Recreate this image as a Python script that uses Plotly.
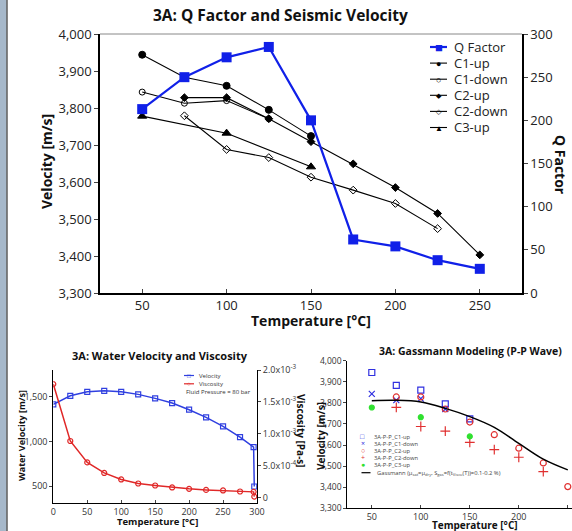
import plotly.graph_objects as go

W, H = 572, 531
def px(x): return x / W
def py(y): return 1 - y / H

FONT = "Open Sans"

# ---------------- data: main chart ----------------
q_temps = [50, 75, 100, 125, 150, 175, 200, 225, 250]
q_factor = [213, 250, 273, 285, 200, 62, 54, 38, 28]
c1_up_t = [50, 75, 100, 125, 150]
c1_up_v = [3944, 3883, 3860, 3795, 3724]
c1_down_t = [50, 75, 100, 125]
c1_down_v = [3843, 3813, 3820, 3771]
c2_up_t = [75, 100, 125, 150, 175, 200, 225, 250]
c2_up_v = [3828, 3828, 3771, 3709, 3649, 3585, 3515, 3403]
c2_down_t = [75, 100, 125, 150, 175, 200, 225]
c2_down_v = [3779, 3688, 3666, 3613, 3578, 3542, 3474]
c3_up_t = [50, 100, 150]
c3_up_v = [3778, 3732, 3641]

# ---------------- data: water velocity / viscosity ----------------
water_t = [0, 25, 50, 75, 100, 125, 150, 175, 200, 225, 250, 275, 295, 296]
water_vel = [1415, 1511, 1556, 1567, 1556, 1527, 1482, 1430, 1355, 1270, 1169, 1049, 937, 495]
water_visc = [1.78e-3, 0.89e-3, 0.555e-3, 0.39e-3, 0.288e-3, 0.225e-3, 0.194e-3,
              0.163e-3, 0.141e-3, 0.125e-3, 0.116e-3, 0.100e-3, 0.094e-3, 0.02e-3]

# ---------------- data: Gassmann ----------------
gass_t = [50, 75, 100, 125, 150, 175, 200, 225, 250]
gass_v = [3810, 3812, 3804, 3774, 3735, 3684, 3608, 3533, 3482]

visc_tickvals = [0, 5e-4, 1e-3, 1.5e-3, 2e-3]
visc_ticktext = ["0", "5.0x10<sup>-4</sup>", "1.0x10<sup>-3</sup>",
                 "1.5x10<sup>-3</sup>", "2.0x10<sup>-3</sup>"]

fig = go.Figure()

# main chart traces
def vel_trace(t, v, name, symbol, size, dash="solid"):
    fig.add_trace(go.Scatter(x=t, y=v, name=name, mode="lines+markers",
                             line=dict(color="black", width=1.1, dash=dash),
                             marker=dict(symbol=symbol, size=size, color="black",
                                         line=dict(color="black", width=1)),
                             xaxis="x", yaxis="y", showlegend=False))

vel_trace(c1_up_t, c1_up_v, "C1-up", "circle", 7)
vel_trace(c1_down_t, c1_down_v, "C1-down", "circle-open", 6)
vel_trace(c2_up_t, c2_up_v, "C2-up", "diamond", 6)
vel_trace(c2_down_t, c2_down_v, "C2-down", "diamond-open", 6)
vel_trace(c3_up_t, c3_up_v, "C3-up", "triangle-up", 8)
fig.add_trace(go.Scatter(x=q_temps, y=q_factor, name="Q Factor", mode="lines+markers",
                         line=dict(color="#1020e8", width=2.2),
                         marker=dict(symbol="square", size=10, color="#1020e8"),
                         xaxis="x", yaxis="y2", showlegend=False))

# bottom-left traces
fig.add_trace(go.Scatter(x=water_t, y=water_vel, name="Velocity", mode="lines+markers",
                         line=dict(color="#3040e0", width=1.5),
                         marker=dict(symbol="square-open", size=5, color="#3040e0", line=dict(width=1.2)),
                         xaxis="x2", yaxis="y3", showlegend=False))
fig.add_trace(go.Scatter(x=water_t, y=water_visc, name="Viscosity", mode="lines+markers",
                         line=dict(color="#e02828", width=1.5),
                         marker=dict(symbol="circle-open", size=5, color="#e02828", line=dict(width=1.2)),
                         xaxis="x2", yaxis="y4", showlegend=False))

# bottom-right traces
def gpts(t, v, name, symbol, color, size=6):
    fig.add_trace(go.Scatter(x=t, y=v, name=name, mode="markers",
                             marker=dict(symbol=symbol, size=size, color=color,
                                         line=dict(color=color, width=1.2)),
                             xaxis="x3", yaxis="y5", showlegend=False))

gpts(c1_up_t, c1_up_v, "3A-P-P_C1-up", "square-open", "#3030e0")
gpts(c1_down_t, c1_down_v, "3A-P-P_C1-down", "x-thin-open", "#3030e0")
gpts(c2_up_t, c2_up_v, "3A-P-P_C2-up", "circle-open", "#e03030")
gpts(c2_down_t, c2_down_v, "3A-P-P_C2-down", "cross-thin-open", "#e03030", 7)
gpts(c3_up_t, c3_up_v, "3A-P-P_C3-up", "circle", "#30e030", 5)
fig.add_trace(go.Scatter(x=gass_t, y=gass_v, name="Gassmann", mode="lines",
                         line=dict(color="black", width=1.5, shape="spline"),
                         xaxis="x3", yaxis="y5", showlegend=False))

tickfont_main = dict(family=FONT, size=13, color="#222")
tickfont_small = dict(family=FONT, size=8.5, color="#333")

fig.update_layout(
    width=W, height=H, template="none",
    margin=dict(l=0, r=0, t=0, b=0),
    paper_bgcolor="white", plot_bgcolor="white",
    font=dict(family=FONT, color="#111"),
    showlegend=False,
    # main
    xaxis=dict(domain=[px(100), px(522)], anchor="y", range=[25, 275],
               tickvals=[50, 100, 150, 200, 250], ticks="inside", ticklen=4,
               showgrid=False, zeroline=False, showline=True, linecolor="black", linewidth=1.5,
               tickfont=tickfont_main),
    yaxis=dict(domain=[py(293), py(34)], anchor="x", range=[3300, 4000],
               dtick=100, tickformat=",", ticks="outside", ticklen=4,
               showgrid=False, zeroline=False, showline=True, linecolor="black", linewidth=1.5,
               tickfont=tickfont_main),
    yaxis2=dict(overlaying="y", anchor="x", side="right", range=[0, 300], dtick=50,
                ticks="outside", ticklen=4, showgrid=False, zeroline=False,
                showline=True, linecolor="black", linewidth=1.5, tickfont=tickfont_main),
    # bottom-left
    xaxis2=dict(domain=[px(53.3), px(257)], anchor="y3", range=[0, 300],
                tickvals=[0, 50, 100, 150, 200, 250, 300], ticks="inside", ticklen=3,
                showgrid=False, zeroline=False, showline=True, linecolor="black", linewidth=1,
                tickfont=dict(family=FONT, size=9, color="#333")),
    yaxis3=dict(domain=[py(503), py(370)], anchor="x2", range=[310, 1800],
                tickvals=[500, 1000, 1500], tickformat=",", ticks="outside", ticklen=3,
                showgrid=False, zeroline=False, showline=True, linecolor="black", linewidth=1,
                tickfont=dict(family=FONT, size=9, color="#333")),
    yaxis4=dict(overlaying="y3", anchor="x2", side="right", range=[-0.00008, 0.002],
                tickvals=visc_tickvals, ticktext=visc_ticktext, ticks="outside", ticklen=3,
                showgrid=False, zeroline=False, showline=True, linecolor="black", linewidth=1,
                tickfont=dict(family=FONT, size=9, color="#333")),
    # bottom-right
    xaxis3=dict(domain=[px(347.3), 1.0], anchor="y5", range=[25, 254.3],
                tickvals=[50, 100, 150, 200, 250], ticks="inside", ticklen=3,
                showgrid=False, zeroline=False, showline=True, linecolor="black", linewidth=1,
                tickfont=dict(family=FONT, size=9, color="#333")),
    yaxis5=dict(domain=[py(508.3), py(360.7)], anchor="x3", range=[3300, 4000],
                dtick=100, tickformat=",", ticks="outside", ticklen=3,
                showgrid=False, zeroline=False, showline=True, linecolor="black", linewidth=1,
                tickfont=tickfont_small),
)

shapes = []
# left decorative strip
shapes.append(dict(type="rect", xref="paper", yref="paper", x0=0, x1=px(6.5), y0=0, y1=1,
                   fillcolor="#a6b8ca", line=dict(width=0), layer="above"))
shapes.append(dict(type="line", xref="paper", yref="paper", x0=px(7), x1=px(7), y0=0, y1=1,
                   line=dict(color="#333", width=1.2)))
# top frame of main plot
shapes.append(dict(type="line", xref="paper", yref="paper", x0=px(100), x1=px(522),
                   y0=py(34), y1=py(34), line=dict(color="#888", width=1)))

annotations = []
def ann(text, x, y, size, bold=False, angle=0, xanchor="center", color="#111"):
    annotations.append(dict(text=f"<b>{text}</b>" if bold else text, x=px(x), y=py(y),
                            xref="paper", yref="paper", showarrow=False, textangle=angle,
                            xanchor=xanchor, yanchor="middle",
                            font=dict(family=FONT, size=size, color=color)))

# main chart texts
ann("3A: Q Factor and Seismic Velocity", 280, 15, 15.5, bold=True)
ann("Temperature [°C]", 311, 320, 14, bold=True)
ann("Velocity [m/s]", 46, 162, 14, bold=True, angle=-90)
ann("Q Factor", 561, 165, 14, bold=True, angle=90)

# main legend (manual)
legend_rows = [("Q Factor", "■", "#1020e8", 2.2, 13),
               ("C1-up", "●", "black", 1.1, 9),
               ("C1-down", "○", "black", 1.1, 9),
               ("C2-up", "◆", "black", 1.1, 7),
               ("C2-down", "◇", "black", 1.1, 7),
               ("C3-up", "▲", "black", 1.1, 8)]
for i, (name, sym, col, lw, ms) in enumerate(legend_rows):
    yy = 47 + 16.1 * i
    shapes.append(dict(type="line", xref="paper", yref="paper", x0=px(430), x1=px(447),
                       y0=py(yy), y1=py(yy), line=dict(color=col, width=lw)))
    ann(sym, 438.5, yy, ms, color=col)
    ann(name, 451.5, yy, 13, xanchor="left", color="#222")

# bottom-left texts
ann("3A: Water Velocity and Viscosity", 160, 355, 11, bold=True)
ann("Temperature [°C]", 158, 521.5, 9.5, bold=True)
ann("Water Velocity [m/s]", 21, 436, 9, bold=True, angle=-90)
ann("Viscosity [Pa-s]", 301, 431, 10, bold=True, angle=90)
for i, (name, sym, col) in enumerate([("Velocity", "□", "#3040e0"), ("Viscosity", "○", "#e02828")]):
    yy = 375.5 + 8.3 * i
    shapes.append(dict(type="line", xref="paper", yref="paper", x0=px(184), x1=px(194),
                       y0=py(yy), y1=py(yy), line=dict(color=col, width=1.2)))
    ann(sym, 189, yy, 6, color=col)
    ann(name, 197, yy, 6, xanchor="left", color="#333")
ann("Fluid Pressure = 80 bar", 184, 392, 6, xanchor="left", color="#333")

# bottom-right texts
ann("3A: Gassmann Modeling (P-P Wave)", 470, 350.5, 10.5, bold=True)
ann("Temperature [°C]", 475, 525, 10, bold=True)
ann("Velocity [m/s]", 321, 436, 10, bold=True, angle=-90)
g_rows = [("3A-P-P_C1-up", "□", "#3030e0"), ("3A-P-P_C1-down", "×", "#3030e0"),
          ("3A-P-P_C2-up", "○", "#e03030"), ("3A-P-P_C2-down", "+", "#e03030"),
          ("3A-P-P_C3-up", "●", "#30e030")]
for i, (name, sym, col) in enumerate(g_rows):
    yy = 436.7 + 6.95 * i
    ann(sym, 362.5, yy, 7, color=col)
    ann(name, 372, yy, 5.8, xanchor="left", color="#444")
shapes.append(dict(type="line", xref="paper", yref="paper", x0=px(361.5), x1=px(370.5),
                   y0=py(472.7), y1=py(472.7), line=dict(color="black", width=1.2)))
ann("Gassmann (μ<sub>sat</sub>=μ<sub>dry</sub>, S<sub>gas</sub>=f(t<sub>Visco</sub>(T))=0.1-0.2 %)",
    375, 472.7, 5.8, xanchor="left", color="#444")

fig.update_layout(shapes=shapes, annotations=annotations)
fig.write_html("out.html", config={"displayModeBar": False},
               post_script="document.body.style.margin='0';document.body.style.overflow='hidden';")
